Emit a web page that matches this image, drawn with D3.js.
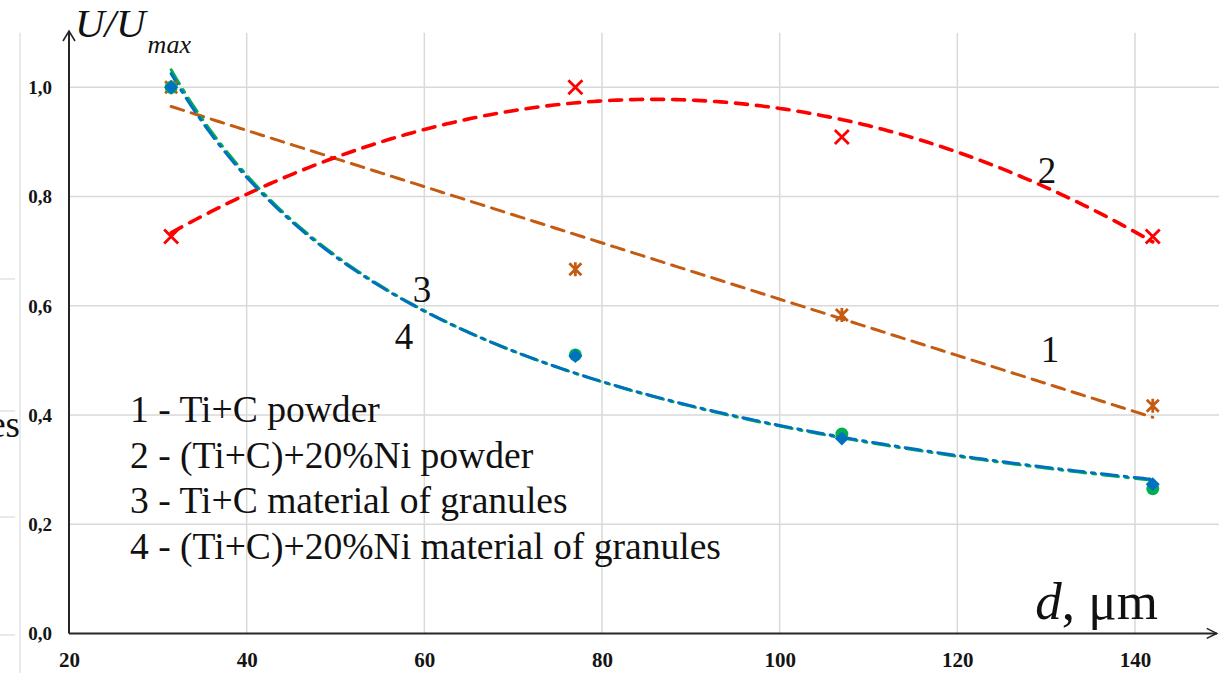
<!DOCTYPE html>
<html>
<head>
<meta charset="utf-8">
<script src="https://cdn.jsdelivr.net/npm/d3@7/dist/d3.min.js"></script>
<style>
  html, body { margin: 0; padding: 0; background: #fff; }
  svg { display: block; }
</style>
</head>
<body>
<svg id="chart" width="1219" height="673"></svg>
<script>
// Particle size d (µm) of the four materials
const sizes = [31.5, 77, 107, 142];

// Relative voltage U/Umax for each material
const tiCPowder       = [1.0, 0.667, 0.583, 0.417];
const tiCNiPowder     = [0.727, 1.0, 0.909, 0.727];
const tiCGranules     = [1.0, 0.51, 0.365, 0.265];
const tiCNiGranules   = [1.0, 0.508, 0.357, 0.273];

// Axis ticks
const xTicks = [20, 40, 60, 80, 100, 120, 140];
const yTicks = [0, 0.2, 0.4, 0.6, 0.8, 1.0];
const yTickLabels = ["0,0", "0,2", "0,4", "0,6", "0,8", "1,0"];

// Legend lines
const legendLines = [
  "1 - Ti+C powder",
  "2 - (Ti+C)+20%Ni powder",
  "3 - Ti+C material of granules",
  "4 - (Ti+C)+20%Ni material of granules"
];

const SERIF = "Liberation Serif";
const W = 1219, H = 673;
const svg = d3.select("#chart");

const x = d3.scaleLinear().domain([20, 140]).range([69, 1135]);
const y = d3.scaleLinear().domain([0, 1]).range([633.4, 87.3]);
const xMax = 149.2, yMax = 1.1;

// ---- trend-line fits -------------------------------------------------
function fitLinear(xs, ys) {
  const n = xs.length, mx = d3.mean(xs), my = d3.mean(ys);
  let sxy = 0, sxx = 0;
  for (let i = 0; i < n; i++) { sxy += (xs[i]-mx)*(ys[i]-my); sxx += (xs[i]-mx)**2; }
  const b = sxy / sxx, a = my - b*mx;
  return v => a + b*v;
}
function fitPoly2(xs, ys) {
  // normal equations for y = c0 + c1 x + c2 x^2
  const S = k => d3.sum(xs, v => v**k);
  const T = k => d3.sum(xs.map((v,i) => ys[i]*v**k));
  const A = [[S(0),S(1),S(2)],[S(1),S(2),S(3)],[S(2),S(3),S(4)]];
  const B = [T(0),T(1),T(2)];
  for (let i = 0; i < 3; i++) {
    for (let j = i+1; j < 3; j++) {
      const f = A[j][i]/A[i][i];
      for (let k = i; k < 3; k++) A[j][k] -= f*A[i][k];
      B[j] -= f*B[i];
    }
  }
  const c = [0,0,0];
  for (let i = 2; i >= 0; i--) {
    let s = B[i];
    for (let k = i+1; k < 3; k++) s -= A[i][k]*c[k];
    c[i] = s / A[i][i];
  }
  return v => c[0] + c[1]*v + c[2]*v*v;
}
function fitPower(xs, ys) {
  const lf = fitLinear(xs.map(Math.log), ys.map(Math.log));
  return v => Math.exp(lf(Math.log(v)));
}

function serifText(sel) { return sel.attr("font-family", SERIF); }

// ---- neighbouring page fragment at the far left -----------------------
svg.append("line").attr("x1", 20).attr("x2", 20).attr("y1", y(yMax)).attr("y2", H)
  .attr("stroke", "#dcdcdc").attr("stroke-width", 1.2);
[279, 411, 517, 635].forEach(v => {
  svg.append("line").attr("x1", 0).attr("x2", 15).attr("y1", v).attr("y2", v)
    .attr("stroke", "#dcdcdc").attr("stroke-width", 1.2);
});
svg.append("text").attr("x", 20).attr("y", 437).attr("text-anchor", "end")
  .attr("font-size", 37).attr("fill", "#111").call(serifText).text("es");

// ---- gridlines --------------------------------------------------------
const grid = svg.append("g").attr("stroke", "#d9d9d9").attr("stroke-width", 1.5);
yTicks.filter(t => t > 0).forEach(t => {
  grid.append("line").attr("x1", x(20)).attr("x2", W).attr("y1", y(t)).attr("y2", y(t));
});
xTicks.filter(t => t > 20).forEach(t => {
  grid.append("line").attr("x1", x(t)).attr("x2", x(t)).attr("y1", y(yMax)).attr("y2", y(0));
});

// ---- axes with arrows -------------------------------------------------
const axisG = svg.append("g").attr("stroke", "#262626").attr("stroke-width", 2).attr("fill", "none");
axisG.append("line").attr("x1", x(20)).attr("x2", x(20)).attr("y1", y(0)).attr("y2", 31);
axisG.append("path").attr("d", `M${x(20)-6},${31+10} L${x(20)},${31} L${x(20)+6},${31+10}`).attr("stroke-width", 1.6);
axisG.append("line").attr("x1", x(20)).attr("x2", x(xMax)).attr("y1", y(0)).attr("y2", y(0));
axisG.append("path").attr("d", `M${x(xMax)-10},${y(0)-5} L${x(xMax)},${y(0)} L${x(xMax)-10},${y(0)+5}`).attr("stroke-width", 1.6);

// tick labels via d3 axes (no tick lines)
const xAxis = d3.axisBottom(x).tickValues(xTicks).tickSize(0).tickPadding(0).tickFormat(d3.format("d"));
svg.append("g").attr("transform", `translate(0,${y(0)+34})`).call(xAxis)
  .attr("font-family", SERIF)
  .call(g => g.select(".domain").remove())
  .call(g => g.selectAll("text").call(serifText)
    .attr("font-size", 21).attr("font-weight", "bold").attr("fill", "#141414").attr("dy", 0));

const yAxis = d3.axisLeft(y).tickValues(yTicks).tickSize(0).tickPadding(0)
  .tickFormat((d, i) => yTickLabels[i]);
svg.append("g").attr("transform", `translate(52,0)`).call(yAxis)
  .attr("font-family", SERIF)
  .call(g => g.select(".domain").remove())
  .call(g => g.selectAll("text").call(serifText)
    .attr("font-size", 19).attr("font-weight", "bold").attr("fill", "#141414").attr("dy", "0.33em"));

// ---- trend lines ------------------------------------------------------
const seriesDefs = [
  { vals: tiCPowder,     fit: fitLinear, color: "#C55A11", width: 3,   dash: "13 8",  offset: 0 },
  { vals: tiCNiPowder,   fit: fitPoly2,  color: "#FF0000", width: 3.6, dash: "12 9",  offset: 0 },
  { vals: tiCGranules,   fit: fitPower,  color: "#00B050", width: 3,   dash: "16 7 3 7", offset: 0 },
  { vals: tiCNiGranules, fit: fitPower,  color: "#0070C0", width: 3,   dash: "16 7 3 7", offset: 4 }
];
const line = d3.line().x(d => x(d[0])).y(d => y(d[1])).curve(d3.curveLinear);
const x0 = d3.min(sizes), x1 = d3.max(sizes);
seriesDefs.forEach(s => {
  const f = s.fit(sizes, s.vals);
  const pts = d3.range(0, 201).map(i => { const v = x0 + (x1-x0)*i/200; return [v, f(v)]; });
  svg.append("path").datum(pts).attr("d", line)
    .attr("fill", "none").attr("stroke", s.color).attr("stroke-width", s.width)
    .attr("stroke-dasharray", s.dash).attr("stroke-dashoffset", s.offset)
    .attr("stroke-linecap", "round");
});

// ---- markers ----------------------------------------------------------
// 1: star (cross with vertical bar)
svg.append("g").selectAll("path").data(sizes.map((v,i) => [v, tiCPowder[i]])).join("path")
  .attr("transform", d => `translate(${x(d[0])},${y(d[1])})`)
  .attr("d", "M-6,-6L6,6M-6,6L6,-6M0,-7L0,7")
  .attr("stroke", "#C55A11").attr("stroke-width", 2.8).attr("fill", "none");
// 2: cross
svg.append("g").selectAll("path").data(sizes.map((v,i) => [v, tiCNiPowder[i]])).join("path")
  .attr("transform", d => `translate(${x(d[0])},${y(d[1])})`)
  .attr("d", "M-7,-7L7,7M-7,7L7,-7")
  .attr("stroke", "#FF0000").attr("stroke-width", 2.8).attr("fill", "none");
// 3: circle
svg.append("g").selectAll("circle").data(sizes.map((v,i) => [v, tiCGranules[i]])).join("circle")
  .attr("cx", d => x(d[0])).attr("cy", d => y(d[1])).attr("r", 6.5)
  .attr("fill", "#00B050");
// 4: diamond
svg.append("g").selectAll("path").data(sizes.map((v,i) => [v, tiCNiGranules[i]])).join("path")
  .attr("transform", d => `translate(${x(d[0])},${y(d[1])})`)
  .attr("d", "M0,-7L7,0L0,7L-7,0Z")
  .attr("fill", "#0070C0");

// ---- curve numbers ----------------------------------------------------
const numLabels = [
  { t: "1", px: 1050, py: 362 },
  { t: "2", px: 1047, py: 183 },
  { t: "3", px: 422,  py: 302 },
  { t: "4", px: 404,  py: 349 }
];
svg.append("g").selectAll("text").data(numLabels).join("text")
  .attr("x", d => d.px).attr("y", d => d.py).attr("text-anchor", "middle")
  .attr("font-size", 37).attr("fill", "#111").call(serifText).text(d => d.t);

// ---- legend text ------------------------------------------------------
svg.append("g").selectAll("text").data(legendLines).join("text")
  .attr("x", 130).attr("y", (d, i) => 422 + i*45.5)
  .attr("font-size", 37.6).attr("fill", "#111").call(serifText).text(d => d);

// ---- axis titles ------------------------------------------------------
const yt = svg.append("text").attr("x", 75).attr("y", 37).attr("fill", "#111").call(serifText);
yt.append("tspan").attr("font-size", 41).attr("font-style", "italic").text("U/U");
yt.append("tspan").attr("font-size", 26).attr("font-style", "italic").attr("dy", 16).attr("dx", 2).text("max");

const xt = svg.append("text").attr("x", 1158).attr("y", 619).attr("text-anchor", "end").attr("fill", "#111").call(serifText);
xt.append("tspan").attr("font-size", 53).attr("font-style", "italic").text("d");
xt.append("tspan").attr("font-size", 53).text(", μm");
</script>
</body>
</html>
